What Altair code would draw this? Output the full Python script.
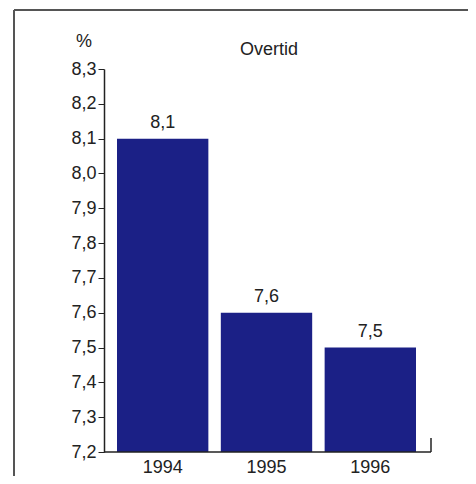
import altair as alt
import pandas as pd

years = ["1994", "1995", "1996"]
values = [8.1, 7.6, 7.5]
labels = ["8,1", "7,6", "7,5"]
y_ticks = [7.2, 7.3, 7.4, 7.5, 7.6, 7.7, 7.8, 7.9, 8.0, 8.1, 8.2, 8.3]

df = pd.DataFrame({"year": years, "value": values, "label": labels, "base": [7.2] * 3})
one = pd.DataFrame({"k": [0]})

W, H = 327, 383
FONT = "Liberation Sans"
FS = 18
BAR = "#1b2086"

x_enc = alt.X("year:N", sort=years,
              scale=alt.Scale(range=[13, 312], paddingInner=0.12, paddingOuter=0),
              axis=alt.Axis(title=None, domain=False, ticks=False, labelAngle=0,
                            labelFont=FONT, labelFontSize=FS, labelColor="#222",
                            labelFontWeight="normal", labelPadding=6))
y_enc = alt.Y("value:Q",
              scale=alt.Scale(domain=[7.2, 8.3], zero=False, nice=False),
              axis=alt.Axis(title=None, values=y_ticks, grid=False, labelOverlap=False,
                            domainColor="#222", domainWidth=1.5,
                            tickColor="#222", tickSize=6, tickWidth=1,
                            labelExpr="replace(format(datum.value, '.1f'), '.', ',')",
                            labelFont=FONT, labelFontSize=FS, labelColor="#222",
                            labelFontWeight="normal", labelPadding=2))

bars = alt.Chart(df).mark_bar(color=BAR).encode(x=x_enc, y=y_enc, y2="base:Q")

text = alt.Chart(df).mark_text(font=FONT, fontSize=FS, fontWeight="normal", color="#222", dy=-16).encode(
    x=x_enc, y=y_enc, text="label:N")

xaxis = alt.Chart(one).mark_rule(color="#222", strokeWidth=1.5).encode(
    x=alt.value(0), x2=alt.value(W), y=alt.value(H))
rtick = alt.Chart(one).mark_rule(color="#222", strokeWidth=1.5).encode(
    x=alt.value(W), y=alt.value(H), y2=alt.value(H - 14))

frame_left = alt.Chart(one).mark_rule(color="#555", strokeWidth=2).encode(
    x=alt.value(-90), y=alt.value(-59), y2=alt.value(420))
frame_top = alt.Chart(one).mark_rule(color="#555", strokeWidth=2).encode(
    x=alt.value(-90), x2=alt.value(372), y=alt.value(-59))
frame_right = alt.Chart(one).mark_rule(color="#e4e4e4", strokeWidth=1).encode(
    x=alt.value(369), y=alt.value(-55), y2=alt.value(420))

title = alt.Chart(one).mark_text(font=FONT, fontSize=FS, fontWeight="normal", color="#222").encode(
    x=alt.value(165), y=alt.value(-19), text=alt.value("Overtid"))
pct = alt.Chart(one).mark_text(font=FONT, fontSize=FS, fontWeight="normal", color="#222").encode(
    x=alt.value(-20), y=alt.value(-27), text=alt.value("%"))

chart = alt.layer(frame_left, frame_top, frame_right, bars, text, xaxis, rtick, title, pct).properties(
    width=W, height=H,
    background="white",
    autosize=alt.AutoSizeParams(type="none"),
    padding={"left": 96, "top": 61, "right": 37, "bottom": 24},
).configure_view(strokeWidth=0)

chart.save("out.html", embed_options={"renderer": "svg", "actions": False})
